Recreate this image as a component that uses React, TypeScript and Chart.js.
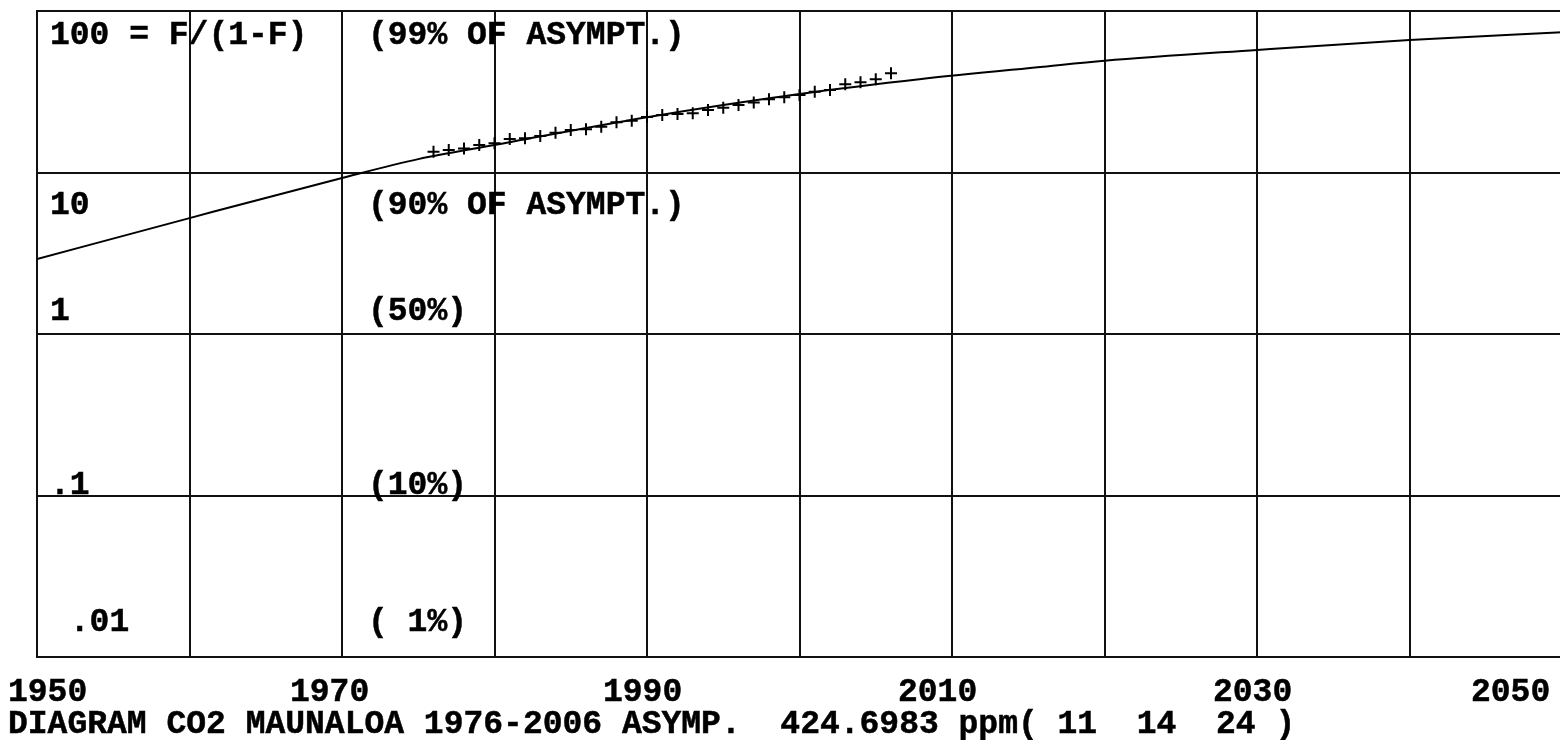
import React, { useEffect, useRef } from "react";
import { Chart, registerables } from "chart.js";

Chart.register(...registerables);

// Fitted curve (F/(1-F), log scale)
const curveYears = [1950, 1960, 1970, 1975, 1980, 1990, 2000, 2008, 2016, 2020, 2030, 2040, 2050];
const curveValues = [2.91, 5.22, 9.25, 12.1, 14.8, 22.0, 30.6, 37.9, 45.2, 49.2, 57.4, 66.1, 73.8];

// Observed Mauna Loa points 1976-2006
const obsYears = [
  1976, 1977, 1978, 1979, 1980, 1981, 1982, 1983, 1984, 1985, 1986, 1987, 1988, 1989, 1990,
  1991, 1992, 1993, 1994, 1995, 1996, 1997, 1998, 1999, 2000, 2001, 2002, 2003, 2004, 2005, 2006,
];
const obsValues = [
  13.45, 13.8, 14.1, 14.8, 15.2, 16.1, 16.3, 16.8, 17.6, 18.3, 18.5, 19.2, 20.5, 20.9, 22.1,
  22.7, 23.0, 23.3, 24.4, 25.2, 26.2, 27.1, 28.4, 29.2, 30.2, 31.6, 32.4, 35.2, 36.2, 37.8, 41.1,
];

const yDecades = [0.01, 0.1, 1, 10, 100];
const yTickLabels = ["100 = F/(1-F)", "10", "1", ".1", " .01"];
const pctLabels = ["(99% OF ASYMPT.)", "(90% OF ASYMPT.)", "(50%)", "(10%)", "( 1%)"];
const xTickLabels = ["1950", "1970", "1990", "2010", "2030", "2050"];
const caption = "DIAGRAM CO2 MAUNALOA 1976-2006 ASYMP.  424.6983 ppm( 11  14  24 )";

const FONT = 'bold 33px "Liberation Mono", "DejaVu Sans Mono", monospace';

const textPlugin = {
  id: "dosText",
  afterDraw(chart: any) {
    const ctx = chart.ctx;
    ctx.save();
    ctx.fillStyle = "#000";
    ctx.strokeStyle = "#000";
    ctx.lineWidth = 0.5;
    ctx.font = FONT;
    ctx.textAlign = "left";
    ctx.textBaseline = "alphabetic";
    const draw = (t: string, x: number, y: number) => {
      ctx.fillText(t, x, y);
      ctx.strokeText(t, x, y);
    };
    const rowBase = [44, 214, 320, 494, 631];
    yTickLabels.forEach((t, i) => {
      draw(t, 50, rowBase[i]);
      draw(pctLabels[i], 368, rowBase[i]);
    });
    const xLeft = [8, 290, 603, 898, 1213, 1471];
    xTickLabels.forEach((t, i) => draw(t, xLeft[i], 701));
    draw(caption, 8, 733);
    ctx.restore();
  },
};

export default function App() {
  const ref = useRef<HTMLCanvasElement | null>(null);
  useEffect(() => {
    if (!ref.current) return;
    const chart = new Chart(ref.current, {
      type: "line",
      data: {
        datasets: [
          {
            label: "fit",
            data: curveYears.map((x, i) => ({ x, y: curveValues[i] })),
            borderColor: "#000",
            borderWidth: 2,
            pointRadius: 0,
            cubicInterpolationMode: "monotone",
            fill: false,
          },
          {
            label: "obs",
            data: obsYears.map((x, i) => ({ x, y: obsValues[i] })),
            showLine: false,
            pointStyle: "cross",
            pointRadius: 6,
            pointBorderWidth: 2,
            borderColor: "#000",
            pointBorderColor: "#000",
          },
        ],
      },
      options: {
        animation: false,
        responsive: false,
        devicePixelRatio: 1,
        layout: { padding: { left: 37, top: 11, right: 6, bottom: 83 } },
        plugins: { legend: { display: false }, tooltip: { enabled: false }, title: { display: false } },
        scales: {
          x: {
            type: "linear",
            min: 1950,
            max: 2050,
            ticks: { display: false, stepSize: 10 },
            grid: { color: "#111", lineWidth: 2, drawTicks: false },
            border: { color: "#111", width: 2 },
          },
          y: {
            type: "logarithmic",
            min: 0.01,
            max: 100,
            afterBuildTicks: (s: any) => {
              s.ticks = yDecades.map((v) => ({ value: v }));
            },
            ticks: { display: false },
            grid: { color: "#111", lineWidth: 2, drawTicks: false },
            border: { color: "#111", width: 2 },
          },
        },
      },
      plugins: [textPlugin],
    } as any);
    return () => chart.destroy();
  }, []);
  return (
    <div
      style={{
        position: "fixed",
        left: 0,
        top: 0,
        width: 1560,
        height: 740,
        overflow: "hidden",
        background: "#fff",
      }}
    >
      <canvas ref={ref} width={1570} height={740} style={{ display: "block" }} />
    </div>
  );
}
